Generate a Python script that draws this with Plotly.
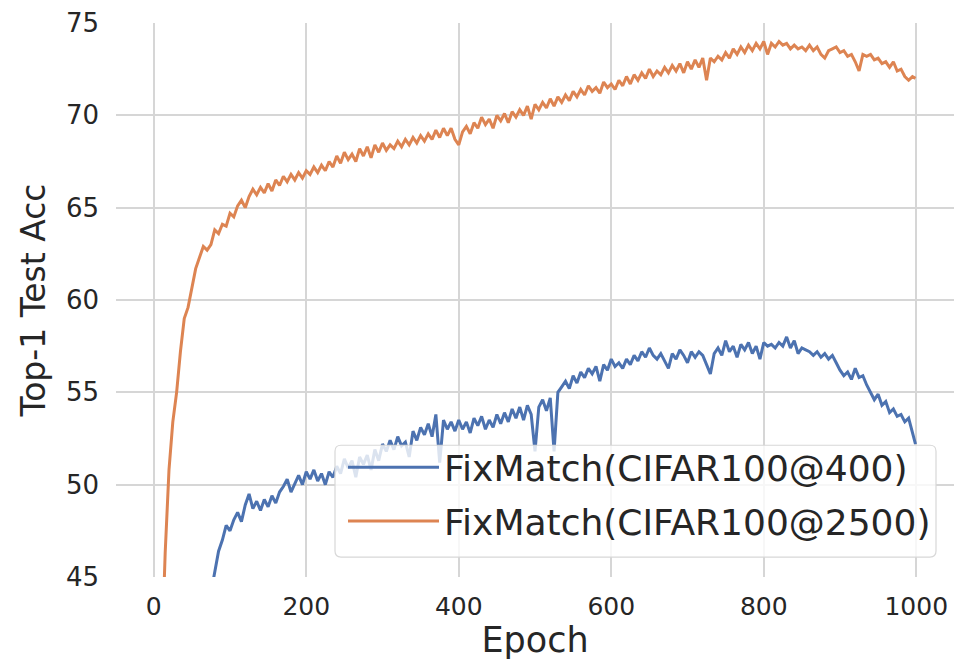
import plotly.graph_objects as go

epochs = list(range(0, 1000, 5)) + [999]

acc_2500 = [
    15, 30, 40, 46.3, 50.8, 53.4, 55.0, 57.2, 59.0, 59.6,
    60.6, 61.7, 62.3, 62.9, 62.7, 63.0, 63.8, 63.6, 64.1, 64.0,
    64.7, 64.5, 65.1, 65.4, 65.0, 65.6, 66.0, 65.7, 66.1, 65.8,
    66.3, 65.9, 66.5, 66.2, 66.7, 66.4, 66.8, 66.5, 66.9, 66.6,
    67.0, 66.8, 67.2, 66.9, 67.3, 67.0, 67.5, 67.2, 67.8, 67.4,
    68.0, 67.6, 67.9, 67.5, 68.2, 67.8, 68.3, 67.7, 68.4, 68.0,
    68.5, 68.1, 68.4, 68.2, 68.6, 68.3, 68.7, 68.4, 68.8, 68.5,
    68.9, 68.6, 69.0, 68.7, 69.2, 68.8, 69.3, 68.9, 69.3, 68.7,
    68.4, 69.1, 69.4, 69.0, 69.6, 69.3, 69.9, 69.5, 69.8, 69.3,
    70.0, 69.7, 70.1, 69.6, 70.2, 69.9, 70.3, 70.0, 70.5, 69.8,
    70.6, 70.3, 70.7, 70.4, 70.9, 70.5, 71.0, 70.7, 71.1, 70.8,
    71.3, 71.0, 71.4, 71.1, 71.6, 71.3, 71.5, 71.2, 71.8, 71.5,
    71.7, 71.4, 71.9, 71.6, 72.1, 71.7, 72.2, 71.9, 72.3, 72.0,
    72.5, 72.1, 72.4, 72.2, 72.6, 72.3, 72.7, 72.4, 72.8, 72.3,
    72.9, 72.5, 73.0, 72.6, 73.1, 71.9, 73.1, 72.9, 73.2, 73.0,
    73.4, 73.1, 73.6, 73.3, 73.7, 73.4, 73.8, 73.5, 73.9, 73.6,
    74.0, 73.3, 73.9, 73.7, 74.0, 73.8, 73.9, 73.6, 73.8, 73.6,
    73.7, 73.5, 73.8, 73.5, 73.7, 73.3, 73.1, 73.5, 73.6, 73.7,
    73.4, 73.5, 73.2, 73.3, 72.9, 72.4, 73.3, 73.2, 73.3, 73.0,
    73.1, 72.8, 72.9, 72.6, 72.9, 72.4, 72.5, 72.1, 71.9, 72.1,
    72.0,
]

acc_400 = [
    1.5, 5, 8, 12, 16, 20, 24, 27.5, 31, 33.5,
    36, 38, 40, 41.5, 43, 44.2, 45.3, 46.4, 47.0, 47.8,
    47.5, 48.1, 48.5, 48.0, 48.9, 49.5, 48.7, 49.1, 48.6, 49.2,
    48.8, 49.4, 49.0, 49.6, 49.9, 50.3, 49.6, 50.1, 50.5, 50.0,
    50.7, 50.3, 50.8, 50.2, 50.6, 50.0, 50.7, 50.4, 51.0, 50.6,
    51.4, 50.9, 51.3, 50.4, 51.5, 51.1, 51.6, 50.8, 51.9, 51.3,
    52.2, 51.8, 52.4, 51.9, 52.6, 52.1, 52.3, 51.5, 52.9, 52.4,
    53.1, 52.7, 53.3, 52.6, 53.8, 51.2, 53.5, 53.0, 53.4, 52.9,
    53.5, 53.0, 53.4, 52.8, 53.6, 53.2, 53.7, 53.0, 53.5, 53.1,
    53.8, 53.3, 53.9, 53.4, 54.1, 53.6, 54.2, 53.5, 54.3, 53.8,
    51.8, 54.2, 54.6, 54.0, 54.7, 51.8, 55.0, 55.3, 55.6, 55.2,
    55.9, 55.5, 56.1, 55.8, 56.3, 56.0, 56.4, 55.6, 56.5, 56.2,
    56.8, 56.4, 56.6, 56.3, 56.8, 56.5, 57.0, 56.7, 57.2, 56.9,
    57.4, 57.0, 56.8, 57.1, 56.7, 56.3, 57.1, 56.8, 57.3, 57.0,
    56.6, 57.2, 56.9, 57.2, 57.0, 56.5, 56.0, 57.1, 57.4, 57.0,
    57.8, 57.2, 57.5, 56.9, 57.6, 57.3, 57.7, 57.1, 57.5, 56.8,
    57.7, 57.5, 57.6, 57.4, 57.7, 57.5, 58.0, 57.4, 57.8, 57.1,
    57.4, 57.3, 57.2, 57.0, 57.2, 56.9, 57.1, 56.8, 57.0, 56.6,
    56.2, 55.9, 56.1, 55.7, 56.3, 55.8, 55.9, 55.4, 55.0, 54.6,
    54.9, 54.3, 54.5, 53.9, 54.1, 53.7, 53.8, 53.4, 53.6, 52.8,
    52.2,
]

series_names = ["FixMatch(CIFAR100@400)", "FixMatch(CIFAR100@2500)"]
x_ticks = [0, 200, 400, 600, 800, 1000]
y_ticks = [45, 50, 55, 60, 65, 70, 75]

assert len(epochs) == len(acc_2500) == len(acc_400)

BLUE = "#4C72B0"
ORANGE = "#DD8452"
TXT = "#262626"
GRID = "#d6d6d6"

fig = go.Figure()
fig.add_trace(go.Scatter(x=epochs, y=acc_400, mode="lines", name=series_names[0],
                         legendgroup="a", line=dict(color=BLUE, width=3)))
fig.add_trace(go.Scatter(x=epochs, y=acc_2500, mode="lines", name=series_names[1],
                         legendgroup="b", line=dict(color=ORANGE, width=3)))

# legend frame (semi-transparent, rounded) in paper coordinates
PW, PH = 838.0, 555.0
x0, x1 = (335 - 116) / PW, (936 - 116) / PW
y0, y1 = (577 - 557) / PH, (577 - 445) / PH
rx, ry = 6 / PW, 6 / PH
frame_path = (
    f"M {x0+rx},{y0} L {x1-rx},{y0} Q {x1},{y0} {x1},{y0+ry} "
    f"L {x1},{y1-ry} Q {x1},{y1} {x1-rx},{y1} "
    f"L {x0+rx},{y1} Q {x0},{y1} {x0},{y1-ry} "
    f"L {x0},{y0+ry} Q {x0},{y0} {x0+rx},{y0} Z"
)

fig.update_layout(
    width=954, height=660,
    margin=dict(l=116, r=0, t=23, b=83),
    paper_bgcolor="white", plot_bgcolor="white",
    font=dict(family="DejaVu Sans", color=TXT, size=26),
    showlegend=True,
    shapes=[dict(type="path", xref="paper", yref="paper", path=frame_path,
                 fillcolor="rgba(255,255,255,0.8)", line=dict(color="#d8d8d8", width=1.2),
                 layer="above")],
    legend=dict(
        x=(343 - 116) / PW, y=(577 - 437) / PH, xanchor="left", yanchor="top",
        bgcolor="rgba(0,0,0,0)", borderwidth=0,
        font=dict(size=36, color=TXT, family="DejaVu Sans"),
        itemwidth=91, tracegroupgap=4, traceorder="grouped",
    ),
)
fig.update_xaxes(
    range=[-49.5, 1049.5], tickvals=x_ticks, ticktext=[str(v) for v in x_ticks],
    showgrid=True, gridcolor=GRID, gridwidth=1.6, zeroline=False, showline=False,
    ticks="", ticklabelstandoff=12, tickfont=dict(size=25, color=TXT),
    title=dict(text="Epoch", font=dict(size=35, color=TXT), standoff=7),
)
fig.update_yaxes(
    range=[45, 75], tickvals=y_ticks, ticktext=[str(v) for v in y_ticks],
    showgrid=True, gridcolor=GRID, gridwidth=1.6, zeroline=False, showline=False,
    ticks="", ticklabelstandoff=16, tickfont=dict(size=26, color=TXT),
    title=dict(text="Top-1 Test Acc", font=dict(size=33, color=TXT), standoff=10),
)

fig.write_html("out.html")
